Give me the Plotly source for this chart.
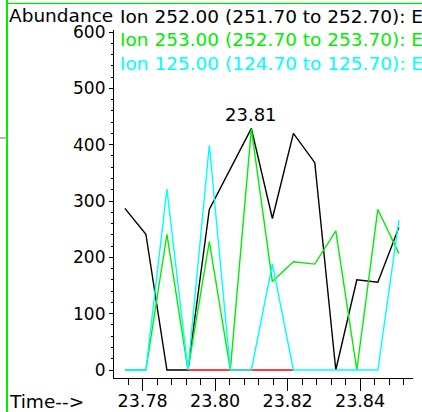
import plotly.graph_objects as go

# Retention times (min) of the scans
times = [23.7751, 23.7809, 23.7867, 23.7925, 23.7984, 23.8042, 23.8100,
         23.8158, 23.8216, 23.8275, 23.8333, 23.8391, 23.8449, 23.8507]

# Extracted ion abundances
ion252 = [287, 241, 0, 0, 285, 358, 429, 269, 420, 368, 0, 160, 156, 253]
ion253 = [0, 0, 241, 0, 228, 0, 428, 157, 192, 188, 247, 0, 285, 207]
ion125 = [0, 0, 321, 0, 399, 0, 0, 188, 0, 0, 0, 0, 0, 266]

# Integration baseline under the 23.81 peak
base_times = times[3:9]
base_vals = [0, 0, 0, 0, 0, 0]

legend_labels = [
    "Ion 252.00 (251.70 to 252.70): E",
    "Ion 253.00 (252.70 to 253.70): E",
    "Ion 125.00 (124.70 to 125.70): E",
]
peak_label = "23.81"
x_ticks = [23.78, 23.80, 23.82, 23.84]
y_ticks = [0, 100, 200, 300, 400, 500, 600]

W, H = 422, 412
L, R, T, B = 114, 9, 30, 34
PW, PH = W - L - R, H - T - B
FONT = "DejaVu Sans"

def px(xp):
    return (xp - L) / PW

def py(yp):
    return (H - B - yp) / PH

fig = go.Figure()
fig.add_trace(go.Scatter(x=base_times, y=base_vals, mode="lines",
                         line=dict(color="#ff0000", width=1.4), hoverinfo="skip"))
fig.add_trace(go.Scatter(x=times, y=ion252, mode="lines",
                         line=dict(color="#000000", width=1.4)))
fig.add_trace(go.Scatter(x=times, y=ion253, mode="lines",
                         line=dict(color="#00ee00", width=1.4)))
fig.add_trace(go.Scatter(x=times, y=ion125, mode="lines",
                         line=dict(color="#00ffff", width=1.4)))

annotations = [
    dict(text="Abundance", x=px(7), y=py(15.5), xref="paper", yref="paper",
         xanchor="left", yanchor="middle", showarrow=False,
         font=dict(family=FONT, size=18.5, color="#000000")),
    dict(text="Time-->", x=px(7), y=py(401), xref="paper", yref="paper",
         xanchor="left", yanchor="middle", showarrow=False,
         font=dict(family=FONT, size=18.5, color="#000000")),
    dict(text=peak_label, x=times[ion252.index(max(ion252))], y=max(ion252),
         xref="x", yref="y", xanchor="center", yanchor="bottom",
         showarrow=False, yshift=1,
         font=dict(family=FONT, size=18, color="#000000")),
]
legend_colors = ["#000000", "#00ee00", "#00ffff"]
for i, (lab, col) in enumerate(zip(legend_labels, legend_colors)):
    annotations.append(dict(
        text=lab, x=px(118), y=py(16.5 + 23.3 * i), xref="paper", yref="paper",
        xanchor="left", yanchor="middle", showarrow=False,
        font=dict(family=FONT, size=18.5, color=col)))

shapes = [
    dict(type="line", xref="paper", yref="paper", x0=px(7), x1=px(7),
         y0=py(0), y1=py(H), line=dict(color="#00ee00", width=2)),
    dict(type="line", xref="paper", yref="paper", x0=px(7), x1=px(W),
         y0=py(3.3), y1=py(3.3), line=dict(color="#00ee00", width=1.3)),
    dict(type="line", xref="paper", yref="paper", x0=px(0), x1=px(7),
         y0=py(138), y1=py(138), line=dict(color="#a0a0a0", width=1.5)),
]

fig.update_layout(
    width=W, height=H,
    margin=dict(l=L, r=R, t=T, b=B, pad=0, autoexpand=False),
    paper_bgcolor="white", plot_bgcolor="white",
    showlegend=False,
    annotations=annotations,
    shapes=shapes,
    xaxis=dict(
        range=[23.7721, 23.8546], tickvals=x_ticks,
        ticktext=[f"{v:.2f}" for v in x_ticks],
        automargin=False,
        showgrid=False, zeroline=False, showline=True,
        linecolor="#000000", linewidth=1.2,
        ticks="outside", ticklen=12, tickwidth=1.2, tickcolor="#000000",
        ticklabelstandoff=-5,
        minor=dict(tick0=23.78, dtick=0.004, ticks="outside", ticklen=6,
                   tickwidth=1.2, tickcolor="#000000", showgrid=False),
        tickfont=dict(family=FONT, size=17.5, color="#000000"),
    ),
    yaxis=dict(
        range=[-14.2, 603.6], tickvals=y_ticks,
        automargin=False,
        showgrid=False, zeroline=False, showline=True,
        linecolor="#000000", linewidth=1.2,
        ticks="outside", ticklen=4, tickwidth=1.2, tickcolor="#000000",
        minor=dict(tick0=0, dtick=20, ticks="outside", ticklen=2,
                   tickwidth=1, tickcolor="#000000", showgrid=False),
        tickfont=dict(family=FONT, size=17, color="#000000"),
    ),
)

fig.write_html("out.html")
